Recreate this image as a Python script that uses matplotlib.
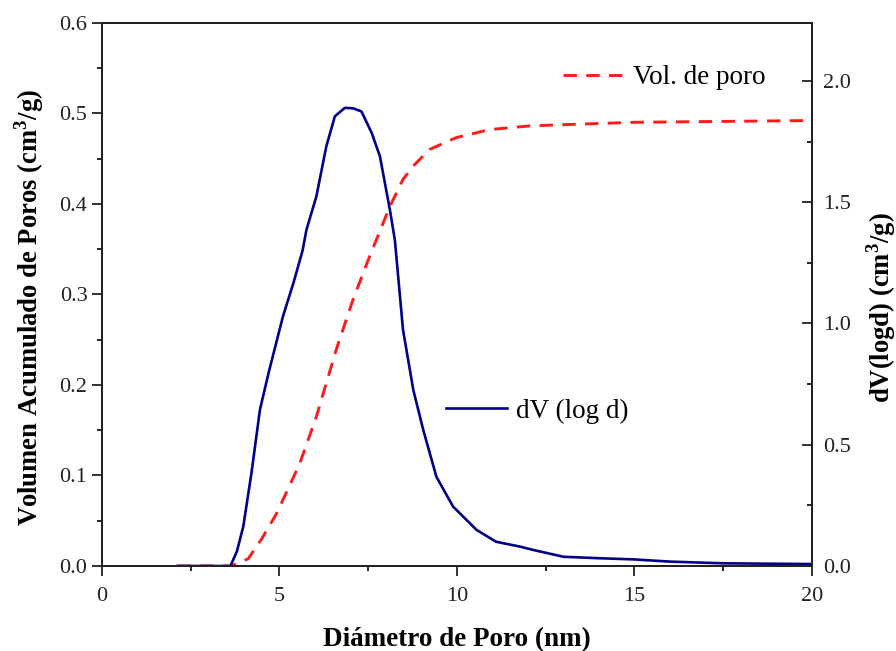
import matplotlib
matplotlib.use("Agg")
import matplotlib.pyplot as plt
from matplotlib.ticker import MultipleLocator, FormatStrFormatter

plt.rcParams['font.family'] = ['Liberation Serif', 'DejaVu Serif']
plt.rcParams['mathtext.fontset'] = 'custom'
plt.rcParams['mathtext.rm'] = 'Liberation Serif'
plt.rcParams['mathtext.bf'] = 'Liberation Serif:bold'

# Pore size distribution dV(log d) (right axis)
dv_x = [2.13, 3.0, 3.62, 3.80, 3.98, 4.21, 4.45, 4.70, 5.10, 5.40, 5.65, 5.76, 6.04, 6.32,
        6.56, 6.84, 7.08, 7.31, 7.60, 7.83, 8.11, 8.25, 8.48, 8.77, 9.05, 9.42,
        9.89, 10.55, 11.10, 11.77, 12.15, 13.0, 14.0, 15.0, 16.0, 17.5, 20.0]
dv_y = [0.0, 0.0, 0.0, 0.06, 0.162, 0.382, 0.644, 0.80, 1.03, 1.17, 1.30, 1.386, 1.524, 1.73,
        1.854, 1.889, 1.887, 1.874, 1.785, 1.689, 1.469, 1.345, 0.974, 0.726, 0.561, 0.368,
        0.245, 0.149, 0.100, 0.080, 0.066, 0.038, 0.032, 0.027, 0.018, 0.011, 0.008]

# Cumulative pore volume (left axis)
vol_x = [2.13, 3.65, 4.12, 4.50, 4.92, 5.57, 6.04, 6.60, 7.07, 7.54, 8.11, 8.48, 8.80,
         9.23, 9.97, 10.92, 12.04, 13.45, 15.0, 20.0]
vol_y = [0.0, 0.0, 0.008, 0.030, 0.058, 0.113, 0.165, 0.239, 0.294, 0.342, 0.397, 0.427,
         0.443, 0.460, 0.473, 0.482, 0.486, 0.488, 0.490, 0.492]

x_ticks = [0, 5, 10, 15, 20]
left_ticks = [0.0, 0.1, 0.2, 0.3, 0.4, 0.5, 0.6]
right_ticks = [0.0, 0.5, 1.0, 1.5, 2.0]

fig = plt.figure(figsize=(8.96, 6.51), dpi=100)
ax = fig.add_axes([0.1138, 0.1306, 0.7924, 0.8345])
ax2 = ax.twinx()

l_vol, = ax.plot(vol_x, vol_y, color='#ff1a1a', lw=2.1, label='Vol. de poro')
l_vol.set_dashes([4.6, 3.2])
l_dv, = ax2.plot(dv_x, dv_y, color='#000088', lw=1.9, label='dV (log d)')

ax.set_xlim(0, 20)
ax.set_ylim(0, 0.6)
ax2.set_ylim(0, 2.24)

ax.set_xticks(x_ticks)
ax.xaxis.set_minor_locator(MultipleLocator(2.5))
ax.set_yticks(left_ticks)
ax.yaxis.set_minor_locator(MultipleLocator(0.05))
ax.yaxis.set_major_formatter(FormatStrFormatter('%.1f'))
ax2.set_yticks(right_ticks)
ax2.yaxis.set_minor_locator(MultipleLocator(0.25))
ax2.yaxis.set_major_formatter(FormatStrFormatter('%.1f'))

for a in (ax, ax2):
    for s in a.spines.values():
        s.set_linewidth(1.4)
        s.set_color('#222222')

ax.tick_params(axis='both', which='major', direction='out', length=7, width=1.3,
               labelsize=16, colors='#222222', top=False, right=False)
ax.tick_params(axis='both', which='minor', direction='out', length=3.6, width=1.2,
               top=False, right=False)
ax.tick_params(axis='y', which='major', pad=3.5)
ax.tick_params(axis='x', which='major', pad=8)
ax2.tick_params(axis='y', which='major', direction='in', length=7, width=1.3,
                labelsize=16, colors='#222222', pad=8)
ax2.tick_params(axis='y', which='minor', direction='in', length=3.6, width=1.2)

ax.set_xlabel('Diámetro de Poro (nm)', fontsize=19.5, fontweight='bold', labelpad=15)
ax.set_ylabel(r'Volumen Acumulado de Poros (cm$^{\mathbf{3}}$/g)', fontsize=19.2,
              fontweight='bold')
ax.yaxis.set_label_coords(-0.079, 0.475)
ax2.set_ylabel(r'dV(logd) (cm$^{\mathbf{3}}$/g)', fontsize=19.2, fontweight='bold',
               rotation=90)
ax2.yaxis.set_label_coords(1.073, 0.475)

leg1 = ax2.legend(handles=[l_vol], loc='center left', bbox_to_anchor=(563/896, 1-78/651),
                  bbox_transform=fig.transFigure, frameon=False, fontsize=19.5,
                  handlelength=2.25, handletextpad=0.35, borderpad=0, borderaxespad=0)
ax2.add_artist(leg1)
ax2.legend(handles=[l_dv], loc='center left', bbox_to_anchor=(446/896, 1-411/651),
           bbox_transform=fig.transFigure, frameon=False, fontsize=19.5,
           handlelength=2.25, handletextpad=0.35, borderpad=0, borderaxespad=0)

fig.savefig('out.png', dpi=100)
